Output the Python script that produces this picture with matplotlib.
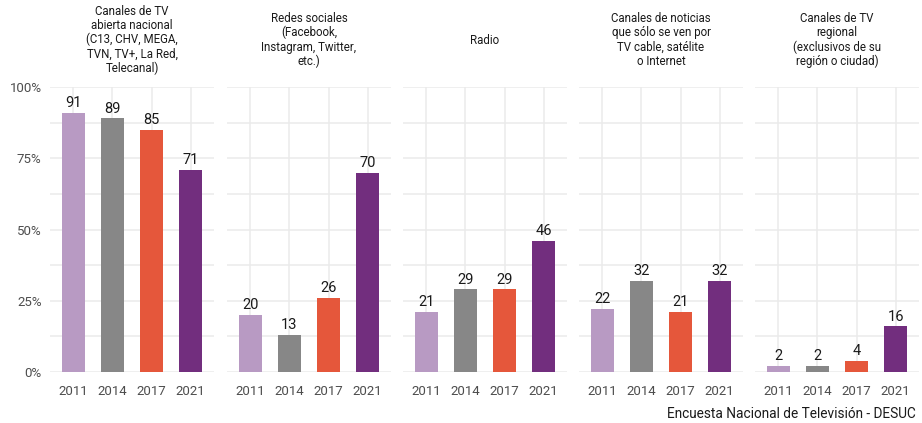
import matplotlib.pyplot as plt
import numpy as np

plt.rcParams['font.family'] = ['Roboto', 'DejaVu Sans']

years = ['2011', '2014', '2017', '2021']
colors = ['#B89AC3', '#878787', '#E5573B', '#722E7E']

panel_titles = [
    'Canales de TV\nabierta nacional\n(C13, CHV, MEGA,\nTVN, TV+, La Red,\nTelecanal)',
    'Redes sociales\n(Facebook,\nInstagram, Twitter,\netc.)',
    'Radio',
    'Canales de noticias\nque sólo se ven por\nTV cable, satélite\no Internet',
    'Canales de TV\nregional\n(exclusivos de su\nregión o ciudad)',
]
tv_abierta = [91, 89, 85, 71]
redes = [20, 13, 26, 70]
radio = [21, 29, 29, 46]
noticias_cable = [22, 32, 21, 32]
tv_regional = [2, 2, 4, 16]
values = [tv_abierta, redes, radio, noticias_cable, tv_regional]

W, H = 922, 423
fig = plt.figure(figsize=(W / 100, H / 100), dpi=100)

lefts = [50, 227, 403, 579, 755]
pw, top, bottom = 164, 87, 372
x = np.arange(1, 5)

for i, (left, vals, title) in enumerate(zip(lefts, values, panel_titles)):
    ax = fig.add_axes([left / W, (H - bottom) / H, pw / W, (bottom - top) / H])
    ax.set_xlim(0.4, 4.6)
    ax.set_ylim(0, 100)
    ax.set_axisbelow(True)
    ax.set_yticks([0, 25, 50, 75, 100])
    ax.set_yticks([12.5, 37.5, 62.5, 87.5], minor=True)
    ax.set_xticks(x)
    ax.set_xticklabels(years)
    ax.grid(True, which='both', color='#EBEBEB', linewidth=1.1)
    for s in ax.spines.values():
        s.set_visible(False)
    ax.tick_params(which='both', length=0)
    ax.tick_params(axis='x', labelsize=9.5, labelcolor='#4D4D4D', pad=9)
    if i == 0:
        ax.set_yticklabels(['0%', '25%', '50%', '75%', '100%'])
        ax.tick_params(axis='y', labelsize=9.5, labelcolor='#4D4D4D', pad=6)
    else:
        ax.set_yticklabels([])
    ax.bar(x, vals, width=0.6, color=colors)
    for xi, v in zip(x, vals):
        ax.text(xi, v + 1, str(v), ha='center', va='bottom', fontsize=10.5,
                color='#1A1A1A', clip_on=False)
    fig.text((left + pw / 2) / W, 1 - 40 / H, title, ha='center', va='center',
             fontsize=8.3, color='#1A1A1A', linespacing=1.12)

fig.text(916 / W, 1 - 414 / H, 'Encuesta Nacional de Televisión - DESUC',
         ha='right', va='center', fontsize=9.8, color='#1A1A1A')

fig.savefig('out.png', dpi=100)
